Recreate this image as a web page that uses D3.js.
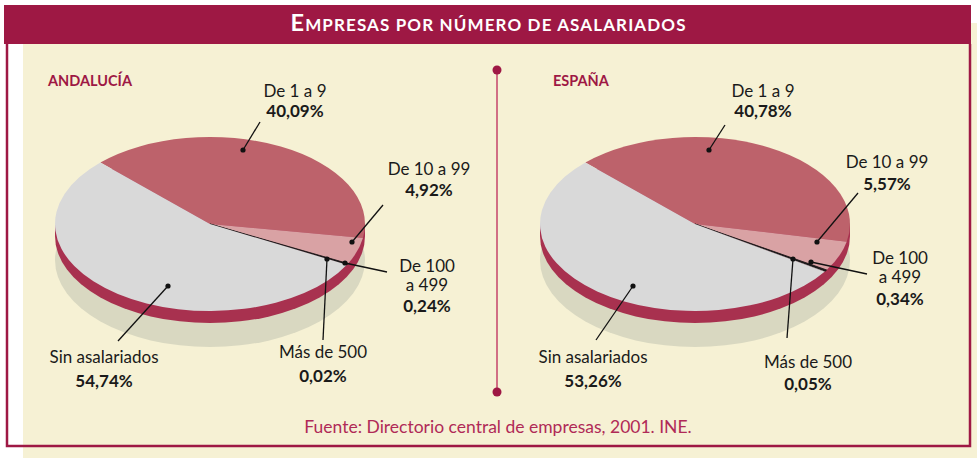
<!DOCTYPE html>
<html>
<head>
<meta charset="utf-8">
<script src="https://cdn.jsdelivr.net/npm/d3@7"></script>
<style>
  html, body { margin: 0; padding: 0; background: #ffffff; }
  svg { display: block; font-family: Lato, 'Liberation Sans', sans-serif; }
</style>
</head>
<body>
<svg id="chart" width="977" height="458"></svg>
<script>
// categories and values (percent of companies)
const categories = ['De 1 a 9', 'De 10 a 99', 'De 100 a 499', 'Más de 500', 'Sin asalariados'];
const andalucia = [40.09, 4.92, 0.24, 0.02, 54.74];
const espana = [40.78, 5.57, 0.34, 0.05, 53.26];
const regions = ['ANDALUCÍA', 'ESPAÑA'];

const title = 'EMPRESAS POR NÚMERO DE ASALARIADOS';
const source = 'Fuente: Directorio central de empresas, 2001. INE.';

const sliceColors = ['#bd626b', '#d9a2a4', '#1a1a1a', '#ffffff', '#d9d9d9'];
const crimson = '#9e1844';

// label text lines per category (name split where the original wraps)
const labelLines = [['De 1 a 9'], ['De 10 a 99'], ['De 100', 'a 499'], ['Más de 500'], ['Sin asalariados']];

const es = d3.formatLocale({ decimal: ',', thousands: '.', grouping: [3], currency: ['', '€'] });
const fmt = v => es.format('.2f')(v) + '%';

// annotation layout, offsets from pie centre: dot, leader end, text anchor and line baselines
const layouts = [
  [
    { dot: [33, -74], end: [50, -102], tx: 85, ty: [-127, -107] },
    { dot: [142, 18], end: [173, -19], tx: 219, ty: [-49, -28] },
    { dot: [135, 39], end: [177, 48], tx: 217, ty: [48, 67, 88] },
    { dot: [117, 35], end: [113, 116], tx: 113, ty: [134, 158] },
    { dot: [-42, 62], end: [-92, 117], tx: -106, ty: [139, 163] },
  ],
  [
    { dot: [14, -74], end: [30, -99], tx: 68, ty: [-127, -107] },
    { dot: [122, 18], end: [163, -31], tx: 192, ty: [-56, -34] },
    { dot: [116, 38], end: [172, 50], tx: 205, ty: [40, 59, 81] },
    { dot: [98, 35], end: [92, 114], tx: 113, ty: [144, 166] },
    { dot: [-62, 62], end: [-99, 116], tx: -102, ty: [139, 163] },
  ],
];

const width = 977;
const height = 458;
const rx = 155;
const ry = 87;
const depth = 12;
const centers = [[210, 224], [695, 224]];

const svg = d3.select('#chart');

// frame
svg.append('rect').attr('x', 23).attr('y', 23).attr('width', width - 23).attr('height', height - 23).attr('fill', '#f6f1d4');
svg.append('path')
  .attr('d', 'M7,44V446H970V44')
  .attr('fill', 'none')
  .attr('stroke', crimson)
  .attr('stroke-width', 2.5);
svg.append('rect').attr('x', 4).attr('y', 5).attr('width', 967).attr('height', 39).attr('fill', crimson);

const titleText = svg.append('text')
  .attr('x', 488)
  .attr('y', 31)
  .attr('text-anchor', 'middle')
  .attr('fill', '#ffffff')
  .attr('font-weight', 'bold')
  .attr('textLength', 395)
  .attr('lengthAdjust', 'spacing');
titleText.append('tspan').attr('font-size', 23.5).text(title[0]);
titleText.append('tspan').attr('font-size', 17).text(title.slice(1));

// divider
svg.append('line')
  .attr('x1', 497).attr('x2', 497).attr('y1', 70).attr('y2', 392)
  .attr('stroke', '#c4436a').attr('stroke-width', 1.5);
svg.selectAll('.div-dot')
  .data([70, 392])
  .join('circle')
  .attr('cx', 497).attr('cy', d => d).attr('r', 4.5).attr('fill', crimson);

// region names
svg.selectAll('.region')
  .data(regions)
  .join('text')
  .attr('x', (d, i) => (i === 0 ? 48 : 553))
  .attr('y', 86)
  .attr('fill', crimson)
  .attr('font-size', 14.5)
  .attr('font-weight', 'bold')
  .text(d => d);

const pie = d3.pie().sort(null).startAngle(-Math.PI / 4).endAngle(Math.PI * 7 / 4);
const arc = d3.arc().innerRadius(0).outerRadius(rx);

function drawPie(values, center, layout) {
  const [cx, cy] = center;
  const g = svg.append('g');

  // shadow
  g.append('ellipse')
    .attr('cx', cx).attr('cy', cy + 36).attr('rx', rx).attr('ry', ry)
    .attr('fill', '#d9d8c1');

  // side
  g.append('ellipse')
    .attr('cx', cx).attr('cy', cy + depth).attr('rx', rx).attr('ry', ry)
    .attr('fill', '#a8314f');
  g.append('rect')
    .attr('x', cx - rx).attr('y', cy).attr('width', rx * 2).attr('height', depth)
    .attr('fill', '#a8314f');

  // top face
  const top = g.append('g').attr('transform', `translate(${cx},${cy}) scale(1,${ry / rx})`);
  top.selectAll('path')
    .data(pie(values))
    .join('path')
    .attr('d', arc)
    .attr('fill', (d, i) => sliceColors[i])
    .attr('stroke', (d, i) => (i === 2 ? '#1a1a1a' : 'none'))
    .attr('stroke-width', 0.8)
    .attr('vector-effect', 'non-scaling-stroke');

  // leaders and labels
  const ann = g.append('g').attr('transform', `translate(${cx},${cy})`);
  layout.forEach((l, i) => {
    ann.append('line')
      .attr('x1', l.dot[0]).attr('y1', l.dot[1])
      .attr('x2', l.end[0]).attr('y2', l.end[1])
      .attr('stroke', '#111').attr('stroke-width', 1.3);
    ann.append('circle')
      .attr('cx', l.dot[0]).attr('cy', l.dot[1]).attr('r', 2.6).attr('fill', '#111');
    const lines = labelLines[i].concat([fmt(values[i])]);
    lines.forEach((t, j) => {
      ann.append('text')
        .attr('x', l.tx)
        .attr('y', l.ty[j])
        .attr('text-anchor', 'middle')
        .attr('font-size', 17)
        .attr('font-weight', j === lines.length - 1 ? 'bold' : 'normal')
        .attr('fill', '#1a1a1a')
        .text(t);
    });
  });
}

drawPie(andalucia, centers[0], layouts[0]);
drawPie(espana, centers[1], layouts[1]);

svg.append('text')
  .attr('x', 498)
  .attr('y', 433)
  .attr('text-anchor', 'middle')
  .attr('fill', '#b02a57')
  .attr('font-size', 17.5)
  .text(source);
</script>
</body>
</html>
